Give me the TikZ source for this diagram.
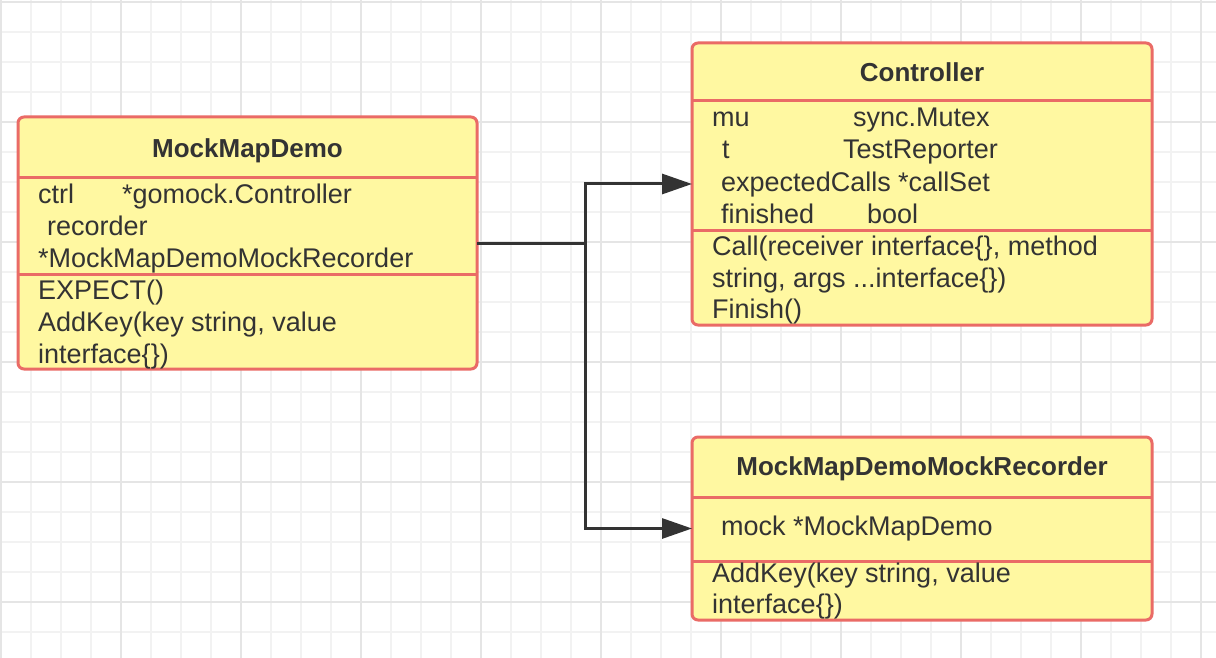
\documentclass[tikz,border=0pt]{standalone}
\usepackage{fontspec}
\setmainfont{Liberation Sans}
\usepackage{tikz}
\usetikzlibrary{positioning}
\usetikzlibrary{arrows.meta}
\definecolor{boxfill}{RGB}{255,248,161}
\definecolor{boxline}{RGB}{234,107,102}
\definecolor{inkgray}{RGB}{51,51,51}
\definecolor{gridminor}{RGB}{242,242,242}
\definecolor{gridmajor}{RGB}{229,229,229}
\tikzset{class box/.style={draw=boxline,fill=boxfill,line width=3pt,rounded corners=6pt,inner sep=0pt,outer sep=0pt,anchor=north west},
	title/.style={font=\fontsize{26pt}{32pt}\selectfont\bfseries,text=inkgray,inner sep=0pt,anchor=base},
	member/.style={font=\fontsize{27pt}{32pt}\selectfont,text=inkgray,inner sep=0pt,anchor=base west},
	divider/.style={draw=boxline,line width=3pt},
	link/.style={->,draw=inkgray,line width=3pt},}
\begin{document}
\begin{tikzpicture}[x=1pt, y=-1pt, >={Triangle[length=30pt,width=20pt]}]
	\useasboundingbox[fill=white] (0,0) rectangle (1216,658);
	% grid
	\foreach \x in {1,31,...,1216} \draw[gridminor, line width=1.5pt] (\x,0) -- (\x,658);
	\foreach \y in {2,32,...,658} \draw[gridminor, line width=1.5pt] (0,\y) -- (1216,\y);
	\foreach \x in {1,121,...,1216} \draw[gridmajor, line width=2pt] (\x,0) -- (\x,658);
	\foreach \y in {2,122,...,658} \draw[gridmajor, line width=2pt] (0,\y) -- (1216,\y);

	% classes
	\node[class box, minimum width=459pt, minimum height=252pt] (demo) at (18,117) {};
	\node[class box, minimum width=460pt, minimum height=282pt] (ctrl) at (692,43) {};
	\node[class box, minimum width=460pt, minimum height=183pt] (rec) at (692,437) {};

	\draw[divider] (demo.west |- 0,178) -- (demo.east |- 0,178);
	\draw[divider] (demo.west |- 0,274) -- (demo.east |- 0,274);
	\draw[divider] (ctrl.west |- 0,101) -- (ctrl.east |- 0,101);
	\draw[divider] (ctrl.west |- 0,230) -- (ctrl.east |- 0,230);
	\draw[divider] (rec.west |- 0,497) -- (rec.east |- 0,497);
	\draw[divider] (rec.west |- 0,561) -- (rec.east |- 0,561);

	\node[title] (demot) at (demo.north |- 0,158) {MockMapDemo};
	\node[member] (demo1) at (38,204) {ctrl};
	\node[member] (demo1t) at (122,204) {*gomock.Controller};
	\node[member] (demo2) at (47,235) {recorder};
	\node[member] (demo3) at (38,267) {*MockMapDemoMockRecorder};
	\node[member] (demo4) at (38,299) {EXPECT()};
	\node[member] (demo5) at (38,331) {AddKey(key string, value};
	\node[member] (demo6) at (38,363) {interface\{\})};

	\node[title] (ctrlt) at (ctrl.north |- 0,82) {Controller};
	\node[member] (ctrl1) at (712,127) {mu};
	\node[member] (ctrl1t) at (853,127) {sync.Mutex};
	\node[member] (ctrl2) at (722,159) {t};
	\node[member] (ctrl2t) at (843,159) {TestReporter};
	\node[member] (ctrl3) at (721,191) {expectedCalls *callSet};
	\node[member] (ctrl4) at (721,223) {finished};
	\node[member] (ctrl4t) at (867,223) {bool};
	\node[member] (ctrl5) at (712,255) {Call(receiver interface\{\}, method};
	\node[member] (ctrl6) at (712,287) {string, args ...interface\{\})};
	\node[member] (ctrl7) at (712,318) {Finish()};

	\node[title] (rect) at (rec.north |- 0,475) {MockMapDemoMockRecorder};
	\node[member] (rec1) at (721,535) {mock *MockMapDemo};
	\node[member] (rec2) at (712,582) {AddKey(key string, value};
	\node[member] (rec3) at (712,613) {interface\{\})};

	% links
	\coordinate (split) at (demo.east -| 585,0);
	\draw[link] (demo.east) -- (split) |- (ctrl.west);
	\draw[link] (split) |- (rec.west);
\end{tikzpicture}
\end{document}
